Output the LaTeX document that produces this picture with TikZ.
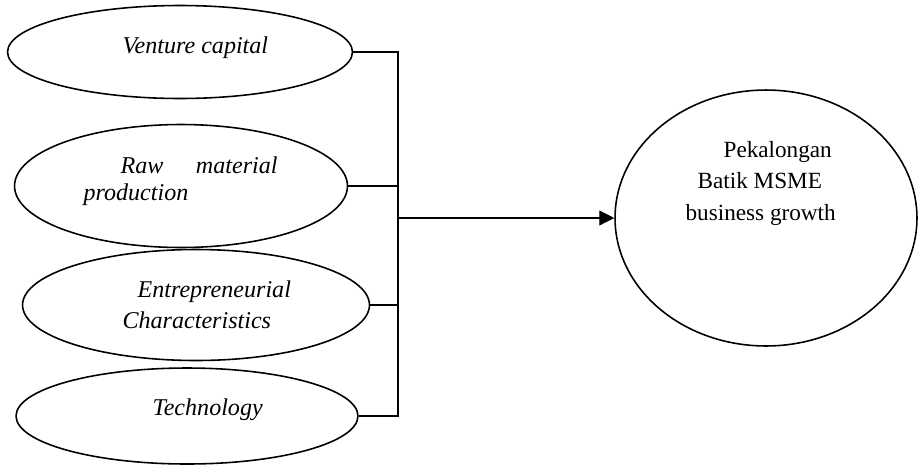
\documentclass[tikz,border=0pt]{standalone}
\usepackage{fontspec}
\setmainfont{Liberation Serif}
\usepackage{tikz}
\usetikzlibrary{shapes.geometric}
\usetikzlibrary{arrows.meta}
\tikzset{basic/.style={draw,ellipse,line width=0.9pt,inner sep=0pt}}
\tikzset{factor/.style={basic}}
\def\unitpx{0.02cm}

\begin{document}
\begin{tikzpicture}[x=\unitpx,y=-\unitpx,line width=0.7pt]
    \tikzstyle{vartext}=[inner sep=0pt,anchor=base west,align=left,
                         font=\fontsize{13.7}{17.6}\selectfont\itshape]
    \tikzstyle{restext}=[inner sep=0pt,anchor=base west,align=left,
                         font=\fontsize{13.2}{17.9}\selectfont]
    \useasboundingbox (0,0) rectangle (919,464);

    % Draw the independent variables
    \foreach \name / \x / \y / \w / \h in {1/180/52/6.9/1.86,2/181/186/6.66/2.46,
                                           3/196/305/6.94/2.22,4/187/416/6.84/1.92}
        \node[factor,minimum width=\w cm,minimum height=\h cm] (E-\name) at (\x,\y) {};

    \node[vartext] (T-1) at (122,53) {Venture capital};
    \node[vartext,text width=3.88cm,font=\fontsize{13.7}{15.9}\selectfont\itshape]
        (T-2) at (83,173) {\hspace*{0.74cm}\makebox[3.14cm][s]{Raw\hfill material}\\production};
    \node[vartext] (T-3) at (122,328) {\hspace*{0.3cm}Entrepreneurial\\Characteristics};
    \node[vartext] (T-4) at (152,415) {Technology};

    % Draw the dependent variable
    \node[factor,minimum width=6.04cm,minimum height=5.12cm] (G) at (766,218) {};
    \node[restext] (T-G) at (685,220)
        {\hspace*{0.76cm}Pekalongan\\\hspace*{0.24cm}Batik MSME\\business growth};

    % Join every variable to the bus, then the bus to the growth
    \coordinate (bus) at (398,218);
    \draw (E-1.east) -| (bus) |- (E-4.east);
    \foreach \name in {2,3}
        \draw (E-\name.east) -- (E-\name.east -| bus);
    \draw[-{Triangle[length=8.5pt,width=8.5pt]}] (bus) -- (G.west);
\end{tikzpicture}
\end{document}
